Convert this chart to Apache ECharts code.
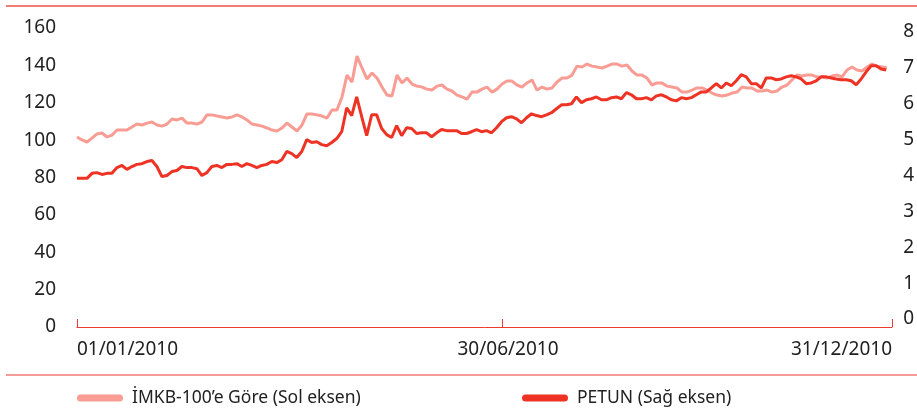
<!DOCTYPE html>
<html>
<head>
<meta charset="utf-8">
<script src="https://cdn.jsdelivr.net/npm/echarts@6/dist/echarts.min.js"></script>
<style>
  html, body { margin: 0; padding: 0; background: #fff; }
  #chart { width: 917px; height: 420px; }
</style>
</head>
<body>
<div id="chart"></div>
<script>
// ~5 px steps, 01/01/2010 .. 31/12/2010
const dayCount = 164
const xTickIndex = [0, 85, 163]
const xTickLabels = ['01/01/2010', '30/06/2010', '31/12/2010']

const leftTicks = { min: 0, max: 160, interval: 20 }
const rightTicks = { min: 0, max: 8, interval: 1 }

const imkbName = 'İMKB-100’e Göre (Sol eksen)'
const petunName = 'PETUN (Sağ eksen)'

// İMKB-100'e göre (sol eksen)
const imkb = [
  101.7, 100.1, 99.0, 101.1, 103.3, 103.8, 101.7, 102.7, 105.4, 105.4,
  105.4, 107.0, 108.6, 108.1, 109.1, 109.7, 108.1, 107.5, 108.6, 111.3,
  110.8, 111.8, 109.1, 109.1, 108.6, 109.7, 113.5, 113.5, 112.9, 112.4,
  111.8, 112.4, 113.5, 112.4, 110.8, 108.6, 108.1, 107.5, 106.5, 105.4,
  104.9, 106.5, 109.1, 107.0, 104.9, 108.1, 114.0, 114.0, 113.5, 112.9,
  111.8, 116.1, 116.1, 123.1, 134.8, 131.1, 145.0, 138.6, 132.7, 135.9,
  133.2, 128.4, 124.1, 123.6, 134.8, 130.6, 133.2, 130.0, 128.9, 128.4,
  127.3, 126.8, 128.9, 129.5, 127.3, 126.3, 124.1, 123.1, 122.0, 125.7,
  125.7, 127.3, 128.4, 125.7, 127.3, 130.0, 131.6, 131.6, 129.5, 128.4,
  130.6, 132.2, 126.8, 128.4, 127.3, 127.9, 131.1, 133.2, 133.2, 134.8,
  139.6, 139.1, 140.7, 139.6, 139.1, 138.6, 139.6, 140.7, 140.7, 139.6,
  140.2, 137.0, 134.8, 134.8, 133.2, 129.5, 130.6, 130.6, 128.9, 128.4,
  127.9, 125.7, 125.7, 126.8, 127.9, 127.9, 126.8, 125.2, 124.1, 123.6,
  124.1, 125.2, 125.7, 128.4, 127.9, 127.9, 126.3, 126.3, 126.8, 125.7,
  126.3, 128.4, 129.5, 132.2, 134.8, 134.3, 134.8, 134.8, 133.8, 133.8,
  133.2, 134.3, 134.8, 133.8, 137.5, 139.1, 137.5, 137.0, 139.1, 140.7,
  139.6, 139.1, 138.6
]

// PETUN (sağ eksen)
const petun = [
  3.92, 3.92, 3.92, 4.06, 4.08, 4.03, 4.06, 4.06, 4.22, 4.28,
  4.17, 4.25, 4.31, 4.33, 4.39, 4.42, 4.25, 3.97, 4.00, 4.11,
  4.14, 4.25, 4.22, 4.22, 4.19, 4.00, 4.08, 4.25, 4.28, 4.22,
  4.31, 4.31, 4.33, 4.25, 4.33, 4.28, 4.22, 4.28, 4.31, 4.39,
  4.36, 4.44, 4.67, 4.61, 4.50, 4.67, 5.00, 4.92, 4.94, 4.86,
  4.83, 4.92, 5.03, 5.22, 5.89, 5.67, 6.19, 5.64, 5.11, 5.69,
  5.69, 5.31, 5.14, 5.06, 5.39, 5.11, 5.33, 5.31, 5.17, 5.19,
  5.19, 5.08, 5.19, 5.28, 5.25, 5.25, 5.25, 5.17, 5.17, 5.22,
  5.28, 5.22, 5.25, 5.19, 5.33, 5.50, 5.61, 5.64, 5.58, 5.47,
  5.61, 5.72, 5.67, 5.64, 5.69, 5.75, 5.86, 5.97, 5.97, 6.00,
  6.19, 6.03, 6.11, 6.14, 6.19, 6.11, 6.11, 6.17, 6.19, 6.14,
  6.31, 6.25, 6.14, 6.14, 6.17, 6.11, 6.22, 6.25, 6.19, 6.11,
  6.08, 6.17, 6.14, 6.17, 6.25, 6.33, 6.33, 6.44, 6.56, 6.44,
  6.58, 6.50, 6.64, 6.81, 6.75, 6.56, 6.56, 6.44, 6.72, 6.72,
  6.67, 6.69, 6.75, 6.78, 6.75, 6.69, 6.56, 6.58, 6.64, 6.75,
  6.75, 6.72, 6.69, 6.67, 6.67, 6.64, 6.53, 6.69, 6.89, 7.06,
  7.06, 6.97, 6.94
]

const font = '"Noto Sans", sans-serif'
const textColor = '#222'
const ruleColor = '#f27b74'
const axisRed = '#f03c30'
const lightRed = '#f89c94'
const darkRed = '#ee3324'

const cats = Array.from({ length: dayCount }, (_, i) => i)
const isTick = (i) => xTickIndex.indexOf(i) !== -1

const pill = 'path://M3.5,0 H42.5 A3.5,3.5 0 0 1 42.5,7 H3.5 A3.5,3.5 0 0 1 3.5,0 Z'

const chart = echarts.init(document.getElementById('chart'), null, { renderer: 'canvas' })

const legendText = { fontSize: 17.5, color: textColor, fontFamily: font, padding: [0, 0, 0, 4] }

const option = {
  animation: false,
  textStyle: { fontFamily: font },
  graphic: [
    { type: 'line', shape: { x1: 6, y1: 6, x2: 917, y2: 6 }, style: { stroke: ruleColor, lineWidth: 2 } },
    { type: 'line', shape: { x1: 6, y1: 375, x2: 917, y2: 375 }, style: { stroke: ruleColor, lineWidth: 1.5 } }
  ],
  legend: [
    {
      data: [imkbName], left: 77, top: 389, padding: 0,
      icon: pill, itemWidth: 46, itemHeight: 7,
      textStyle: legendText
    },
    {
      data: [petunName], left: 522, top: 389, padding: 0,
      icon: pill, itemWidth: 46, itemHeight: 7,
      textStyle: legendText
    }
  ],
  grid: [
    { left: 77, right: 25, top: 28, bottom: 93 },
    { left: 77, right: 25, top: 32, bottom: 101 }
  ],
  xAxis: [
    {
      type: 'category',
      gridIndex: 0,
      data: cats,
      boundaryGap: false,
      offset: 5,
      axisLine: { lineStyle: { color: axisRed, width: 1 } },
      axisTick: {
        inside: true, length: 8,
        interval: (i) => isTick(i),
        lineStyle: { color: axisRed, width: 1 }
      },
      axisLabel: {
        interval: (i) => isTick(i),
        formatter: (v, i) => {
          const k = xTickIndex.indexOf(i)
          if (k === 1) return '{mid|' + xTickLabels[k] + '}'
          return k === -1 ? '' : xTickLabels[k]
        },
        rich: { mid: { fontSize: 19, color: textColor, fontFamily: font, padding: [0, 0, 0, 12] } },
        alignMinLabel: 'left',
        alignMaxLabel: 'right',
        fontSize: 19, color: textColor, fontFamily: font, margin: 8
      },
      splitLine: { show: false }
    },
    {
      type: 'category',
      gridIndex: 1,
      data: cats,
      boundaryGap: false,
      show: false
    }
  ],
  yAxis: [
    {
      type: 'value',
      gridIndex: 0,
      min: leftTicks.min, max: leftTicks.max, interval: leftTicks.interval,
      axisLine: { show: false },
      axisTick: { show: false },
      splitLine: { show: false },
      axisLabel: { fontSize: 19, color: textColor, fontFamily: font, margin: 21 }
    },
    {
      type: 'value',
      gridIndex: 1,
      position: 'right',
      min: rightTicks.min, max: rightTicks.max, interval: rightTicks.interval,
      axisLine: { show: false },
      axisTick: { show: false },
      splitLine: { show: false },
      axisLabel: { fontSize: 19, color: textColor, fontFamily: font, margin: 12 }
    }
  ],
  series: [
    {
      name: imkbName,
      type: 'line',
      xAxisIndex: 0, yAxisIndex: 0,
      data: imkb,
      showSymbol: false,
      color: lightRed,
      lineStyle: { color: lightRed, width: 3 },
      itemStyle: { color: lightRed }
    },
    {
      name: petunName,
      type: 'line',
      xAxisIndex: 1, yAxisIndex: 1,
      data: petun,
      showSymbol: false,
      color: darkRed,
      lineStyle: { color: darkRed, width: 3 },
      itemStyle: { color: darkRed }
    }
  ]
}

chart.setOption(option)
</script>
</body>
</html>
